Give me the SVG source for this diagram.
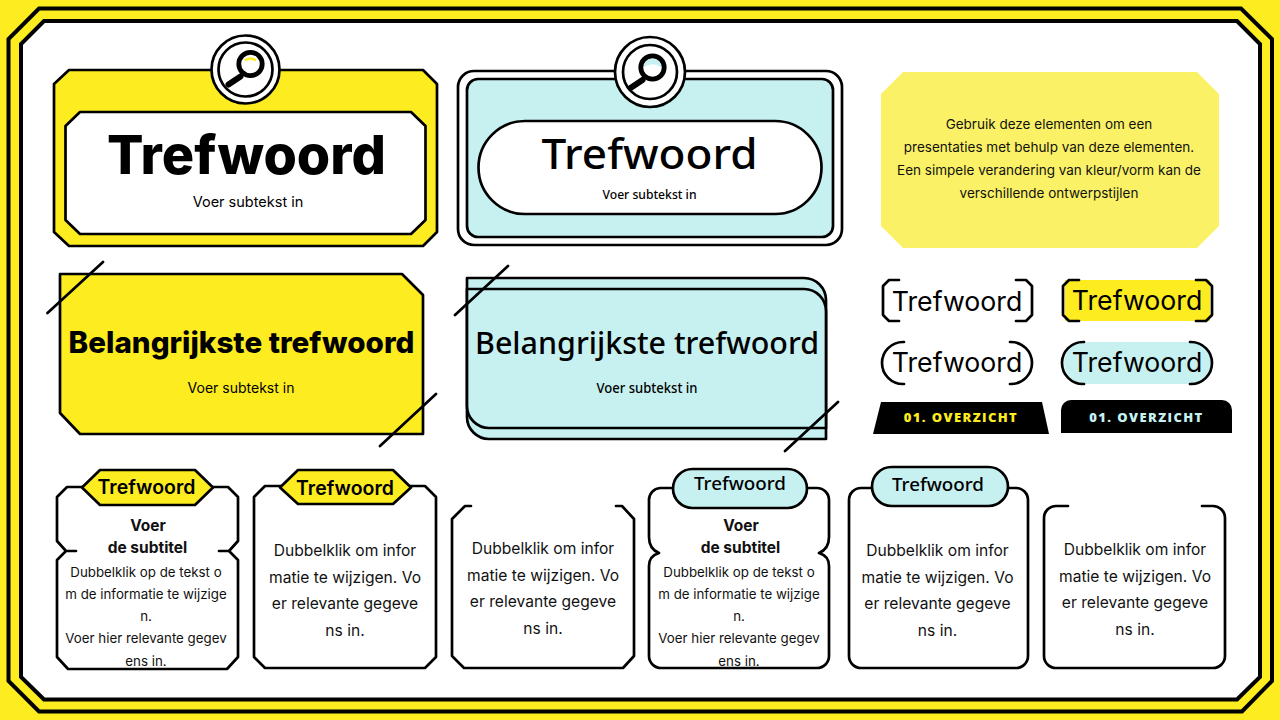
<svg xmlns="http://www.w3.org/2000/svg" width="1280" height="720" viewBox="0 0 1280 720">
<style>
.k{stroke:#000;stroke-width:2.700;stroke-linejoin:round;stroke-linecap:round}
.y{fill:#FCEC20}.c{fill:#C7F1F1}.w{fill:#fff}.n{fill:none}
text{font-family:Inter,"Liberation Sans",sans-serif;fill:#000;text-anchor:middle}
.b{font-family:"Noto Sans","Liberation Sans",sans-serif}
.s{font-size:14.500px}.s2{font-size:14px}.body{font-size:15.600px;fill:#111}.sm{font-size:13.300px;fill:#111}.h{font-size:15.500px;font-weight:700;fill:#111}
.tag{font-size:19.500px;font-weight:600}
.mid{font-size:26.700px}
.note{font-size:13.500px;fill:#111}
.ov{font-family:"Open Sans","Liberation Sans",sans-serif;font-size:13px;font-weight:800;letter-spacing:1.400px}
</style>
<defs>
<g id="lens"><circle cx="5" cy="-5.500" r="11.700" fill="none" stroke="#000" stroke-width="4.800"/><path d="M-5 7L-17 15" stroke="#000" stroke-width="6" stroke-linecap="round"/></g>
</defs>
<rect width="1280" height="720" class="y"/>
<g id="frame">
<path d="M39 8.500H1241L1272 39V681L1242 711.500H39L8.500 681V39Z" class="y" stroke="#000" stroke-width="4"/>
<path d="M44 21H1237L1260 44V677L1237 699.500H44L21 677V44Z" class="w" stroke="#000" stroke-width="4"/>
</g>
<g id="card-yellow-top">
<path d="M69 70H423L437 84V232L423 246H69L54 232V84Z" class="y k"/>
<path d="M80 112H411L425.500 126V220L411 234H80L65.500 220V126Z" class="w k"/>
<circle cx="245.500" cy="69.500" r="34" class="w k"/><circle cx="245.500" cy="69.500" r="27" class="w k"/>
<use href="#lens" x="245.500" y="69.500"/><path d="M245 60.500Q250.500 56.500 256 60.500" stroke="#FCEC20" stroke-width="2.500" fill="none"/>
<text x="246.500" y="174" font-size="54" font-weight="800">Trefwoord</text>
<text x="248" y="207" class="s">Voer subtekst in</text>
</g>
<g id="card-cyan-top">
<rect x="458" y="71" width="384" height="174" rx="16" class="w k"/>
<rect x="467" y="79" width="366" height="158" rx="11" class="c k"/>
<rect x="478.500" y="121" width="343" height="93" rx="46.500" class="w k"/>
<circle cx="650" cy="72" r="35" class="w k"/><circle cx="650" cy="72" r="27" class="w k"/>
<path d="M643.500 67.500A9 9 0 0 1 661.500 67.500Q652.500 61 643.500 67.500Z" class="c"/>
<use href="#lens" x="647.500" y="73"/>
<text x="649.500" y="169" class="b" font-size="41" font-weight="500" textLength="216" lengthAdjust="spacingAndGlyphs">Trefwoord</text>
<text x="649.500" y="199" class="b" font-size="12" font-weight="500" textLength="94" lengthAdjust="spacingAndGlyphs">Voer subtekst in</text>
</g>
<g id="note">
<path d="M903 72H1197L1219 94V226L1197 248H903L881 226V94Z" fill="#FBF166"/>
<text x="1049" y="129" class="note">Gebruik deze elementen om een</text>
<text x="1049" y="152" class="note">presentaties met behulp van deze elementen.</text>
<text x="1049" y="175" class="note">Een simpele verandering van kleur/vorm kan de</text>
<text x="1049" y="198" class="note">verschillende ontwerpstijlen</text>
</g>
<g id="card-yellow-mid">
<path d="M60 274H402L423 295V434H80L60 413Z" class="y k"/>
<path d="M47.500 313L103 262M380 446L436 394" class="k n"/>
<text x="241.500" y="353" font-size="29.600" font-weight="800">Belangrijkste trefwoord</text>
<text x="241" y="393" class="s2">Voer subtekst in</text>
</g>
<g id="card-cyan-mid">
<path d="M467 278H804A22 22 0 0 1 826 300V439H489A22 22 0 0 1 467 417Z" class="c k"/>
<path d="M467 289H804A22 22 0 0 1 826 311V428H489A22 22 0 0 1 467 406Z" class="c k"/>
<path d="M455 315L508 266M785 451L838 402" class="k n"/>
<text x="647" y="354" class="b" font-size="31" font-weight="500" textLength="344" lengthAdjust="spacingAndGlyphs">Belangrijkste trefwoord</text>
<text x="647" y="393" class="b" font-size="14" font-weight="500" textLength="101" lengthAdjust="spacingAndGlyphs">Voer subtekst in</text>
</g>
<g id="label-bracket">
<path d="M899 280H889L883 286V315L889 321H899M1016 280H1026L1032 286V315L1026 321H1016" class="k n"/>
<text x="957" y="311" class="mid">Trefwoord</text>
</g>
<g id="label-bracket-yellow">
<rect x="1065" y="280" width="145" height="41" class="y"/>
<path d="M1079 280H1069L1063 286V315L1069 321H1079M1196 280H1206L1212 286V315L1206 321H1196" class="k n"/>
<text x="1137" y="310" class="mid">Trefwoord</text>
</g>
<g id="label-round">
<path d="M904 342H903A20.500 20.500 0 0 0 903 384H904M1010 342H1011A20.500 20.500 0 0 1 1011 384H1010" class="k n"/>
<text x="957" y="372" class="mid">Trefwoord</text>
</g>
<g id="label-round-cyan">
<rect x="1064" y="342" width="147" height="42" rx="21" class="c"/>
<path d="M1084 342H1083A20.500 20.500 0 0 0 1083 384H1084M1190 342H1191A20.500 20.500 0 0 1 1191 384H1190" class="k n"/>
<text x="1137" y="372" class="mid">Trefwoord</text>
</g>
<g id="section-yellow">
<path d="M881 402H1042L1049 434H873Z" fill="#000"/>
<text x="961" y="422" class="ov" style="fill:#FCEC20">01. OVERZICHT</text>
</g>
<g id="section-cyan">
<path d="M1061 433V410A10 10 0 0 1 1071 400H1222A10 10 0 0 1 1232 410V433Z" fill="#000"/>
<text x="1146.500" y="422" class="ov" style="fill:#C7F1F1">01. OVERZICHT</text>
</g>
<g id="box-1">
<path d="M85 487H67L57 497V541L66 551H76M66 551L57 560V657L68 669H227L238 657V560L229 551H219M229 551L238 541V497L228 487H210" class="k n"/>
<path d="M100 470H195L213 487.500L195 505H100L82 487.500Z" class="y k"/>
<text x="146.500" y="494" class="tag">Trefwoord</text>
<text x="148" y="531" class="h">Voer</text><text x="147.500" y="553" class="h">de subtitel</text>
<text x="146" y="577" class="sm">Dubbelklik op de tekst o</text>
<text x="146" y="599" class="sm">m de informatie te wijzige</text>
<text x="146" y="621" class="sm">n.</text>
<text x="146" y="643" class="sm">Voer hier relevante gegev</text>
<text x="146" y="666" class="sm">ens in.</text>
</g>
<g id="box-2">
<path d="M282 486H265L254 497V657L265 668H425L436 657V497L425 486H408" class="k n"/>
<path d="M298 470H393L411 487.500L393 504H298L280 487.500Z" class="y k"/>
<text x="345" y="495" class="tag">Trefwoord</text>
<text x="345" y="556" class="body">Dubbelklik om infor</text>
<text x="345" y="583" class="body">matie te wijzigen. Vo</text>
<text x="345" y="609" class="body">er relevante gegeve</text>
<text x="345" y="636" class="body">ns in.</text>
</g>
<g id="box-3">
<path d="M471 506H465L452 519V656L464 668H623L634 656V519L622 506H616" class="k n"/>
<text x="543" y="554" class="body">Dubbelklik om infor</text>
<text x="543" y="581" class="body">matie te wijzigen. Vo</text>
<text x="543" y="607" class="body">er relevante gegeve</text>
<text x="543" y="634" class="body">ns in.</text>
</g>
<g id="box-4">
<path d="M676 488H660A12 12 0 0 0 649 500V537Q649 549 659 553Q649 556 649 566V656A12 12 0 0 0 661 668H817A12 12 0 0 0 829 656V566Q829 556 819 553Q829 549 829 537V500A12 12 0 0 0 817 488H805" class="k n"/>
<rect x="673" y="469" width="134" height="39" rx="19.500" class="c k"/>
<text x="740" y="490" class="b" font-size="18" font-weight="500" textLength="92" lengthAdjust="spacingAndGlyphs">Trefwoord</text>
<text x="741" y="531" class="h">Voer</text><text x="740.500" y="553" class="h">de subtitel</text>
<text x="739" y="577" class="sm">Dubbelklik op de tekst o</text>
<text x="739" y="599" class="sm">m de informatie te wijzige</text>
<text x="739" y="621" class="sm">n.</text>
<text x="739" y="643" class="sm">Voer hier relevante gegev</text>
<text x="739" y="666" class="sm">ens in.</text>
</g>
<g id="box-5">
<path d="M874 488H861A12 12 0 0 0 849 500V656A12 12 0 0 0 861 668H1016A12 12 0 0 0 1028 656V500A12 12 0 0 0 1016 488H1006" class="k n"/>
<rect x="872" y="467" width="136" height="39" rx="19.500" class="c k"/>
<text x="938" y="491" class="b" font-size="18" font-weight="500" textLength="92" lengthAdjust="spacingAndGlyphs">Trefwoord</text>
<text x="937.500" y="556" class="body">Dubbelklik om infor</text>
<text x="937.500" y="583" class="body">matie te wijzigen. Vo</text>
<text x="937.500" y="609" class="body">er relevante gegeve</text>
<text x="937.500" y="636" class="body">ns in.</text>
</g>
<g id="box-6">
<path d="M1068 506H1056A12 12 0 0 0 1044 518V656A12 12 0 0 0 1056 668H1213A12 12 0 0 0 1225 656V518A12 12 0 0 0 1213 506H1202" class="k n"/>
<text x="1135" y="555" class="body">Dubbelklik om infor</text>
<text x="1135" y="582" class="body">matie te wijzigen. Vo</text>
<text x="1135" y="608" class="body">er relevante gegeve</text>
<text x="1135" y="635" class="body">ns in.</text>
</g>
</svg>
